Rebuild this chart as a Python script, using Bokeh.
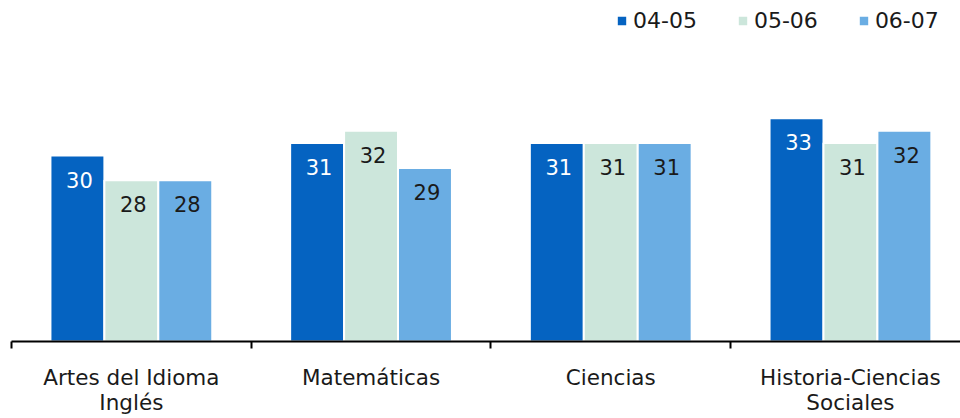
from bokeh.plotting import figure
from bokeh.models import ColumnDataSource, FixedTicker, Legend, LegendItem, Range1d
from bokeh.core.properties import value
from bokeh.embed import file_html
from bokeh.resources import INLINE

categories = ["Artes del Idioma\nInglés", "Matemáticas", "Ciencias", "Historia-Ciencias\nSociales"]
years = ["04-05", "05-06", "06-07"]
v0405 = [30, 31, 31, 33]
v0506 = [28, 32, 31, 31]
v0607 = [28, 29, 31, 32]
series = [v0405, v0506, v0607]
colors = ["#0563C1", "#CCE6DB", "#6AADE3"]
label_colors = ["#FFFFFF", "#1A1A1A", "#1A1A1A"]

FONT = "DejaVu Sans"

p = figure(frame_width=949, frame_height=333, output_backend="svg", toolbar_location=None,
           x_range=Range1d(0, 949 / 239.7), y_range=Range1d(15, 15 + 333 / 12.4),
           min_border_left=11, min_border_right=0, min_border_top=8, min_border_bottom=77,
           y_axis_location=None)
p.outline_line_color = None
p.xgrid.visible = False
p.ygrid.visible = False
p.background_fill_color = "white"
p.border_fill_color = "white"

bar_w = 0.225
offsets = [-bar_w, 0.0, bar_w]
items = []
for k, (yr, vals, col, lc) in enumerate(zip(years, series, colors, label_colors)):
    xs = [i + 0.5 + offsets[k] for i in range(len(categories))]
    src = ColumnDataSource(dict(x=xs, top=vals, txt=[str(v) for v in vals]))
    r = p.vbar(x="x", top="top", bottom=0, width=bar_w, source=src,
               fill_color=col, line_color="white", line_width=2)
    p.text(x="x", y="top", text="txt", source=src, text_align="center",
           text_baseline="middle", y_offset=24, x_offset=2, text_color=lc,
           text_font=value(FONT), text_font_size="21px")
    items.append(LegendItem(label=yr, renderers=[r]))

legend = Legend(items=items, orientation="horizontal", location=(604, 308),
                glyph_width=13, glyph_height=13, label_standoff=5, spacing=39,
                padding=0, margin=0, label_height=21,
                label_text_font=FONT, label_text_font_size="22px", label_text_color="#1A1A1A",
                border_line_color=None, background_fill_alpha=0)
p.add_layout(legend)

ax = p.xaxis[0]
ax.ticker = FixedTicker(ticks=[i + 0.5 for i in range(len(categories))],
                        minor_ticks=list(range(len(categories))))
ax.major_label_overrides = {i + 0.5: c for i, c in enumerate(categories)}
ax.major_tick_out = 0
ax.major_tick_in = 0
ax.minor_tick_out = 7
ax.minor_tick_in = 0
ax.minor_tick_line_color = "black"
ax.minor_tick_line_width = 2
ax.axis_line_color = "black"
ax.axis_line_width = 2
ax.major_label_standoff = 16
ax.major_label_text_font = FONT
ax.major_label_text_font_size = "21.5px"
ax.major_label_text_color = "#1A1A1A"
ax.major_label_text_line_height = 1.0

open("out.html", "w").write(file_html(p, INLINE))
